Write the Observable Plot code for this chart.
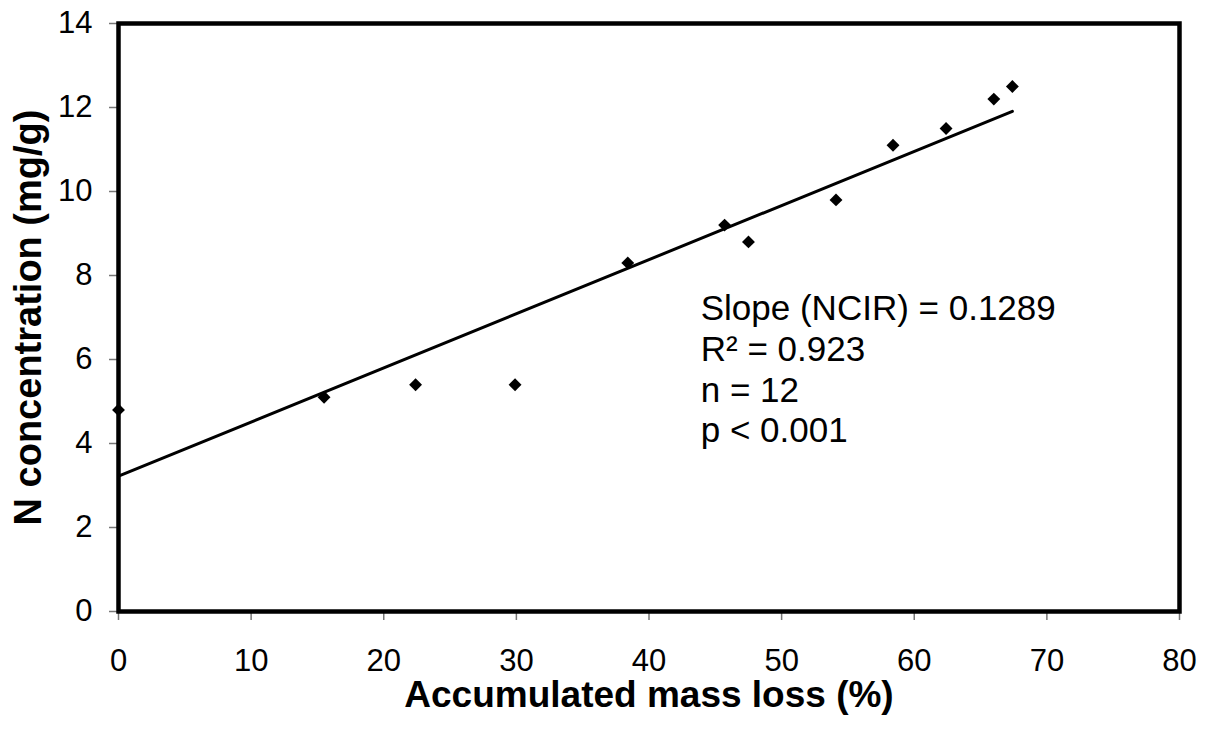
<!DOCTYPE html>
<html>
<head>
<meta charset="utf-8">
<script src="https://cdn.jsdelivr.net/npm/d3@7"></script>
<script src="https://cdn.jsdelivr.net/npm/@observablehq/plot@0.6"></script>
<style>
  html, body { margin: 0; padding: 0; background: #fff; }
  #chart svg { display: block; }
</style>
</head>
<body>
<div id="chart"></div>
<script>
// Data
const massLoss = [0, 15.5, 22.4, 29.9, 38.4, 45.7, 47.5, 54.1, 58.4, 62.4, 66.0, 67.4];
const nConcentration = [4.8, 5.1, 5.4, 5.4, 8.3, 9.2, 8.8, 9.8, 11.1, 11.5, 12.2, 12.5];
const xTicks = [0, 10, 20, 30, 40, 50, 60, 70, 80];
const yTicks = [0, 2, 4, 6, 8, 10, 12, 14];
const xTitle = "Accumulated mass loss (%)";
const yTitle = "N concentration (mg/g)";
const statsLines = ["Slope (NCIR) = 0.1289", "R\u00B2 = 0.923", "n = 12", "p < 0.001"];

const data = massLoss.map((x, i) => ({x, y: nConcentration[i]}));
const font = "'Liberation Sans', Arial, Helvetica, sans-serif";

const chart = Plot.plot({
  width: 1212,
  height: 729,
  marginLeft: 118,
  marginRight: 33,
  marginTop: 23,
  marginBottom: 118,
  style: {fontFamily: font, background: "white", color: "black"},
  x: {domain: [0, 80]},
  y: {domain: [0, 14]},
  marks: [
    Plot.axisX({ticks: xTicks, tickSize: 9, tickPadding: 28, fontSize: 31, stroke: "#777", strokeWidth: 1.5, fill: "black", label: null, tickFormat: d => String(d)}),
    Plot.axisY({ticks: yTicks, tickSize: 9, tickPadding: 17, fontSize: 31, stroke: "#777", strokeWidth: 1.5, fill: "black", label: null, tickFormat: d => String(d)}),
    Plot.linearRegressionY(data, {x: "x", y: "y", ci: 0, stroke: "black", strokeWidth: 3}),
    Plot.dot(data, {x: "x", y: "y", symbol: "diamond2", r: 5.8, fill: "black", stroke: "none"}),
    Plot.text([statsLines.join("\n")], {x: 43.9, y: 7.63, textAnchor: "start", lineAnchor: "top", lineHeight: 1.165, fontSize: 35, fill: "black"}),
    Plot.frame({stroke: "black", strokeWidth: 4.5}),
    Plot.text([xTitle], {frameAnchor: "bottom", textAnchor: "middle", lineAnchor: "middle", dy: 84, fontSize: 37, fontWeight: "bold", fill: "black"}),
    Plot.text([yTitle], {frameAnchor: "left", textAnchor: "middle", lineAnchor: "middle", rotate: -90, dx: -90, fontSize: 38, fontWeight: "bold", fill: "black"})
  ]
});
document.getElementById("chart").appendChild(chart);
</script>
</body>
</html>
